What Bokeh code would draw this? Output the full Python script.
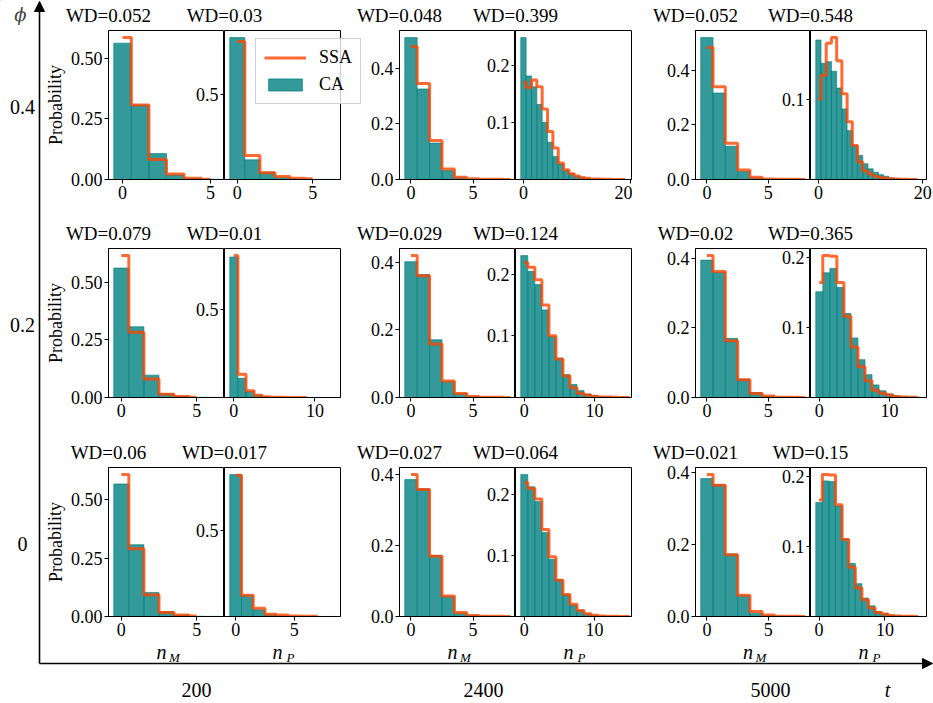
from bokeh.plotting import figure
from bokeh.layouts import row, column
from bokeh.models import (Range1d, FixedTicker, PrintfTickFormatter, Label, Arrow,
                          NormalHead, Legend, LegendItem)
from bokeh.embed import file_html
from bokeh.resources import INLINE

# ------------------------------------------------------------------ data
times = ["200", "2400", "5000"]
phis = ["0.4", "0.2", "0"]
wd_nM = [[0.052, 0.048, 0.052], [0.079, 0.029, 0.02], [0.06, 0.027, 0.021]]
wd_nP = [[0.03, 0.399, 0.548], [0.01, 0.124, 0.365], [0.017, 0.064, 0.15]]

# phi = 0.4
ca_nM_04_200 = [0.562, 0.307, 0.107, 0.019, 0.005, 0.001]
ssa_nM_04_200 = [0.585, 0.307, 0.082, 0.023, 0.0055, 0.001]
ca_nP_04_200 = [0.83, 0.115, 0.043, 0.013, 0.004, 0.001, 0.0005]
ssa_nP_04_200 = [0.807, 0.14, 0.039, 0.018, 0.007, 0.004]
ca_nM_04_2400 = [0.511, 0.326, 0.131, 0.032, 0.006, 0.001, 0.0005, 0.0002]
ssa_nM_04_2400 = [0.479, 0.346, 0.14, 0.038, 0.008, 0.003, 0.001, 0.0005, 0.0002]
ca_nP_04_2400 = [0.248, 0.181, 0.162, 0.131, 0.1, 0.065, 0.04, 0.027, 0.016, 0.010,
                 0.006, 0.004, 0.002, 0.001, 0.0007, 0.0004, 0.0002, 0.0001, 0.0001]
ssa_nP_04_2400 = [0.170, 0.161, 0.174, 0.162, 0.123, 0.084, 0.055, 0.029, 0.017, 0.010,
                  0.006, 0.003, 0.002, 0.001, 0.0007, 0.0004, 0.0003, 0.0002, 0.0001, 0.0001]
ca_nM_04_5000 = [0.52, 0.317, 0.122, 0.03, 0.006, 0.001, 0.0005, 0.0002]
ssa_nM_04_5000 = [0.484, 0.34, 0.133, 0.035, 0.008, 0.002, 0.001, 0.0005, 0.0002]
ca_nP_04_5000 = [0.174, 0.145, 0.147, 0.135, 0.114, 0.088, 0.061, 0.0425, 0.030, 0.0196,
                 0.0133, 0.009, 0.006, 0.004, 0.002, 0.001, 0.0005, 0.0003, 0.0002]
ssa_nP_04_5000 = [0.1, 0.13, 0.170, 0.177, 0.148, 0.107, 0.072, 0.0425, 0.0217, 0.011,
                  0.007, 0.004, 0.0025, 0.0015, 0.001, 0.0006, 0.0004, 0.0002, 0.0001, 0.0001]
# phi = 0.2
ca_nM_02_200 = [0.562, 0.307, 0.097, 0.017, 0.006, 0.001, 0.0005]
ssa_nM_02_200 = [0.616, 0.283, 0.08, 0.0145, 0.004, 0.001]
ca_nP_02_200 = [0.802, 0.11, 0.035, 0.013, 0.004, 0.002, 0.001, 0.0005, 0.0003, 0.0002,
                0.0001, 0.0001, 0.0001]
ssa_nP_02_200 = [0.81, 0.133, 0.038, 0.013, 0.004, 0.002, 0.001, 0.0007, 0.0004, 0.0002]
ca_nM_02_2400 = [0.402, 0.364, 0.171, 0.047, 0.012, 0.003, 0.001, 0.0005]
ssa_nM_02_2400 = [0.42, 0.36, 0.158, 0.049, 0.012, 0.003, 0.001, 0.0005, 0.0002]
ca_nP_02_2400 = [0.230, 0.2045, 0.183, 0.142, 0.099, 0.064, 0.037, 0.021, 0.011, 0.0055,
                 0.003, 0.0015, 0.0007, 0.0003, 0.0002]
ssa_nP_02_2400 = [0.219, 0.211, 0.191, 0.150, 0.100, 0.062, 0.035, 0.016, 0.007, 0.004,
                  0.002, 0.001, 0.0007, 0.0004, 0.0002, 0.0001]
ca_nM_02_5000 = [0.395, 0.36, 0.17, 0.053, 0.0144, 0.004, 0.001, 0.0004]
ssa_nM_02_5000 = [0.408, 0.362, 0.163, 0.051, 0.0115, 0.004, 0.001, 0.0005, 0.0002]
ca_nP_02_5000 = [0.151, 0.178, 0.184, 0.157, 0.120, 0.085, 0.054, 0.0326, 0.018, 0.0096,
                 0.005, 0.0024, 0.0012, 0.0006, 0.0003]
ssa_nP_02_5000 = [0.164, 0.2025, 0.2015, 0.164, 0.116, 0.072, 0.044, 0.024, 0.0105, 0.006,
                  0.0034, 0.0015, 0.0008, 0.0004, 0.0002]
# phi = 0
ca_nM_00_200 = [0.567, 0.307, 0.103, 0.021, 0.006, 0.001, 0.0005]
ssa_nM_00_200 = [0.607, 0.29, 0.093, 0.017, 0.006, 0.002]
ca_nP_00_200 = [0.824, 0.122, 0.039, 0.012, 0.004, 0.001, 0.0005, 0.0003, 0.0001]
ssa_nP_00_200 = [0.82, 0.123, 0.048, 0.0136, 0.008, 0.003, 0.002, 0.001]
ca_nM_00_2400 = [0.386, 0.36, 0.172, 0.0565, 0.0094, 0.003, 0.001, 0.0004]
ssa_nM_00_2400 = [0.40, 0.358, 0.17, 0.058, 0.011, 0.003, 0.001, 0.0005, 0.0002]
ca_nP_00_2400 = [0.233, 0.213, 0.189, 0.138, 0.094, 0.0606, 0.036, 0.019, 0.0099, 0.0044,
                 0.002, 0.001, 0.0005, 0.0002, 0.0001]
ssa_nP_00_2400 = [0.220, 0.210, 0.193, 0.143, 0.098, 0.0595, 0.036, 0.020, 0.0099, 0.0044,
                  0.002, 0.001, 0.0006, 0.0003, 0.0002, 0.0001]
ca_nM_00_5000 = [0.384, 0.367, 0.174, 0.0586, 0.0093, 0.003, 0.001, 0.0004]
ssa_nM_00_5000 = [0.395, 0.365, 0.172, 0.059, 0.014, 0.004, 0.001, 0.0005, 0.0002]
ca_nP_00_5000 = [0.163, 0.194, 0.193, 0.158, 0.111, 0.0758, 0.047, 0.0264, 0.0153, 0.0072,
                 0.0038, 0.002, 0.001, 0.0005, 0.0003, 0.0002]
ssa_nP_00_5000 = [0.1665, 0.203, 0.2024, 0.1597, 0.110, 0.0705, 0.0408, 0.024, 0.012, 0.0058,
                  0.0034, 0.0015, 0.0008, 0.0004, 0.0002, 0.0001]

# upper bin edge of each histogram (lower edge is -0.5)
xmax_nM = [[5.5, 8.0, 8.0], [6.5, 8.0, 8.0], [6.5, 8.0, 8.0]]
xmax_nP = [[6.5, 19.2, 19.7], [12.5, 14.5, 14.5], [8.5, 14.5, 15.5]]

# tick labels
xticks_nM = [0, 5]
xticks_nP = [[[0, 5], [0, 20], [0, 20]], [[0, 10], [0, 10], [0, 10]], [[0, 5], [0, 10], [0, 10]]]
yticks_nM = [[0, 0.25, 0.5], [0, 0.2, 0.4], [0, 0.2, 0.4]]
yfmt_nM = ["%.2f", "%.1f", "%.1f"]
yticks_nP = [[[0.5], [0.1, 0.2], [0.1]], [[0.5], [0.1, 0.2], [0.1, 0.2]], [[0.5], [0.1, 0.2], [0.1, 0.2]]]

data = [
    [(ca_nM_04_200, ssa_nM_04_200, ca_nP_04_200, ssa_nP_04_200),
     (ca_nM_04_2400, ssa_nM_04_2400, ca_nP_04_2400, ssa_nP_04_2400),
     (ca_nM_04_5000, ssa_nM_04_5000, ca_nP_04_5000, ssa_nP_04_5000)],
    [(ca_nM_02_200, ssa_nM_02_200, ca_nP_02_200, ssa_nP_02_200),
     (ca_nM_02_2400, ssa_nM_02_2400, ca_nP_02_2400, ssa_nP_02_2400),
     (ca_nM_02_5000, ssa_nM_02_5000, ca_nP_02_5000, ssa_nP_02_5000)],
    [(ca_nM_00_200, ssa_nM_00_200, ca_nP_00_200, ssa_nP_00_200),
     (ca_nM_00_2400, ssa_nM_00_2400, ca_nP_00_2400, ssa_nP_00_2400),
     (ca_nM_00_5000, ssa_nM_00_5000, ca_nP_00_5000, ssa_nP_00_5000)],
]

# ------------------------------------------------------------------ style / layout
SERIF = "Liberation Serif"
TEAL = "#008080"
ORANGE = "#ff4500"
W, H = 933, 703

M_LEFT = [108, 58, 63]
P_LEFT = 40
P_RIGHT = [1, 1, 7]
FW = [[116, 116], [116, 116], [115, 116]]
ROW_TOP = [30, 36, 37]
ROW_BOTTOM = [33, 33, 46]
FH = 149

# absolute frame positions (for the overlay labels)
frames_x = []
cur = 0
for c in range(3):
    ml = cur + M_LEFT[c]
    mr = ml + FW[c][0]
    pr = mr + FW[c][1]
    frames_x.append((ml, mr, pr))
    cur = pr + P_RIGHT[c]
frames_y = []
cur = 0
for r in range(3):
    t = cur + ROW_TOP[r]
    frames_y.append((t, t + FH))
    cur = t + FH + ROW_BOTTOM[r]
PANELS_H = cur


def style(p, xt, yt, yfmt):
    p.xgrid.grid_line_color = None
    p.ygrid.grid_line_color = None
    p.outline_line_color = "black"
    p.outline_line_alpha = 1
    p.outline_line_width = 1
    p.xaxis.ticker = FixedTicker(ticks=xt)
    p.yaxis.ticker = FixedTicker(ticks=yt)
    p.xaxis.formatter = PrintfTickFormatter(format="%d")
    p.yaxis.formatter = PrintfTickFormatter(format=yfmt)
    for ax in (p.xaxis[0], p.yaxis[0]):
        ax.major_label_text_font = SERIF
        ax.major_label_text_font_size = "18px"
        ax.major_label_text_color = "black"
        ax.major_tick_in = 0
        ax.major_tick_out = 4
        ax.major_tick_line_color = "black"
        ax.minor_tick_line_color = None
        ax.axis_line_color = "black"
        ax.major_label_standoff = 2


def panel(ca, ssa, x_hi, xt, yt, yfmt, bl, fw, br, bt, bb, overlap):
    lo = -0.5
    span = x_hi - lo
    ymax = max(max(ca), max(ssa)) * 1.05
    p = figure(width=bl + fw + br, height=bt + FH + bb,
               x_range=Range1d(lo - 0.05 * span, x_hi + 0.05 * span),
               y_range=Range1d(0, ymax),
               output_backend="svg", toolbar_location=None,
               min_border_left=bl, min_border_right=br,
               min_border_top=bt, min_border_bottom=bb)
    p.vbar(x=list(range(len(ca))), top=ca, bottom=0, width=1,
           fill_color=TEAL, fill_alpha=0.8, line_color=TEAL, line_alpha=0.8, line_width=0.8)
    p.step(x=list(range(len(ssa))), y=ssa, mode="center",
           line_color=ORANGE, line_alpha=0.8, line_width=3)
    style(p, xt, yt, yfmt)
    if overlap:
        p.border_fill_alpha = 0
        p.margin = (0, 0, 0, -bl)
    return p


rows = []
for r in range(3):
    figs = []
    for c in range(3):
        caM, ssaM, caP, ssaP = data[r][c]
        fm = panel(caM, ssaM, xmax_nM[r][c], xticks_nM, yticks_nM[c], yfmt_nM[c],
                   M_LEFT[c], FW[c][0], 0, ROW_TOP[r], ROW_BOTTOM[r], False)
        fp = panel(caP, ssaP, xmax_nP[r][c], xticks_nP[r][c], yticks_nP[r][c], "%.1f",
                   P_LEFT, FW[c][1], P_RIGHT[c], ROW_TOP[r], ROW_BOTTOM[r], True)
        figs += [fm, fp]
    rows.append(row(*figs))
panels = column(*rows)

# ------------------------------------------------------------------ overlay (arrows, labels, legend)
bg = figure(width=W, height=H, x_range=Range1d(0, W), y_range=Range1d(H, 0),
            x_axis_location=None, y_axis_location=None,
            output_backend="svg", toolbar_location=None, min_border=0)
for g in bg.grid:
    g.visible = False
bg.outline_line_color = None
bg.background_fill_alpha = 0
bg.border_fill_alpha = 0
bg.margin = (-PANELS_H, 0, 0, 0)

AX_X, AX_Y = 39, 663
bg.add_layout(Arrow(end=NormalHead(size=10, fill_color="black", line_color="black"),
                    x_start=AX_X, y_start=AX_Y, x_end=AX_X, y_end=1,
                    line_color="black", line_width=1.6))
bg.add_layout(Arrow(end=NormalHead(size=10, fill_color="black", line_color="black"),
                    x_start=AX_X, y_start=AX_Y, x_end=W - 1, y_end=AX_Y,
                    line_color="black", line_width=1.6))


def lab(x, y, text, size="18px", style="normal", angle=0, align="center"):
    bg.add_layout(Label(x=x, y=y, text=text, text_font=SERIF, text_font_size=size,
                        text_font_style=style, text_align=align, text_baseline="middle",
                        text_color="black", angle=angle))


bg.add_layout(Label(x=20, y=14, text="\u03d5", text_font="DejaVu Serif", text_font_size="18px",
                    text_font_style="italic", text_align="center", text_baseline="middle"))
for r in range(3):
    t, b = frames_y[r]
    lab(22, (t + b) / 2 + 2, phis[r], size="20px")
    lab(55, (t + b) / 2, "Probability", size="18px", angle=1.5708)
    for c in range(3):
        ml, mr, pr = frames_x[c]
        lab(ml, t - 15, "WD=" + str(wd_nM[r][c]), size="19px")
        lab(mr, t - 15, "WD=" + str(wd_nP[r][c]), size="19px")

for c in range(3):
    ml, mr, pr = frames_x[c]
    for cx, sub in (((ml + mr) / 2, "M"), ((mr + pr) / 2, "P")):
        lab(cx - 5, 651, "n", size="20px", style="italic")
        lab(cx + 8, 657, sub, size="13px", style="italic")

col_x = [196, 483, 770]
for c in range(3):
    lab(col_x[c], 689, times[c], size="20px")
lab(887, 689, "t", size="20px", style="italic")

# legend proxies: placed outside the visible range so only the legend shows them
r_ssa = bg.line(x=[-200, -100], y=[-200, -200], line_color=ORANGE, line_alpha=0.8, line_width=3)
r_ca = bg.vbar(x=[-200], top=[-300], bottom=-200, width=1, fill_color=TEAL, fill_alpha=0.8,
               line_color=TEAL, line_alpha=0.8)
legend = Legend(items=[LegendItem(label="SSA", renderers=[r_ssa]),
                       LegendItem(label="CA", renderers=[r_ca])],
                location=(255, H - 104),
                label_text_font=SERIF, label_text_font_size="18px", label_text_color="black",
                glyph_width=42, glyph_height=15, label_standoff=13,
                padding=8, spacing=6, margin=0,
                border_line_color="#cccccc", border_line_alpha=0.9,
                background_fill_alpha=0.8)
bg.add_layout(legend)

root = column(panels, bg)
open("out.html", "w").write(file_html(root, INLINE))
